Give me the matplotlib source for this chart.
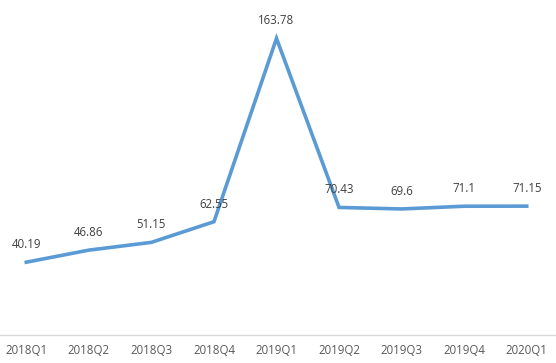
import matplotlib
matplotlib.use('Agg')
import matplotlib.pyplot as plt

quarters = ['2018Q1', '2018Q2', '2018Q3', '2018Q4', '2019Q1',
            '2019Q2', '2019Q3', '2019Q4', '2020Q1']
values = [40.19, 46.86, 51.15, 62.55, 163.78, 70.43, 69.6, 71.1, 71.15]
labels = ['40.19', '46.86', '51.15', '62.55', '163.78', '70.43', '69.6', '71.1', '71.15']

plt.rcParams['font.family'] = ['Open Sans', 'DejaVu Sans']

fig = plt.figure(figsize=(5.56, 3.63), dpi=100)
ax = fig.add_axes([-5/556, 28/363, 563/556, 326/363])

x = range(len(quarters))
ax.plot(x, values, color='#5B9BD5', lw=2.6, solid_joinstyle='miter')
for i, (v, t) in enumerate(zip(values, labels)):
    ax.annotate(t, (i, v), xytext=(0, 8), textcoords='offset points',
                ha='center', va='bottom', fontsize=8.3, color='#404040')

ax.set_xlim(-0.5, 8.5)
ax.set_ylim(0, 180)
ax.set_xticks(list(x))
ax.set_xticklabels(quarters, fontsize=8.3, color='#595959')
ax.tick_params(axis='x', length=0, pad=6.5)
ax.set_yticks([])
for s in ['top', 'right', 'left']:
    ax.spines[s].set_visible(False)
ax.spines['bottom'].set_color('#D9D9D9')
ax.spines['bottom'].set_linewidth(1)

plt.savefig('out.png', dpi=100)
